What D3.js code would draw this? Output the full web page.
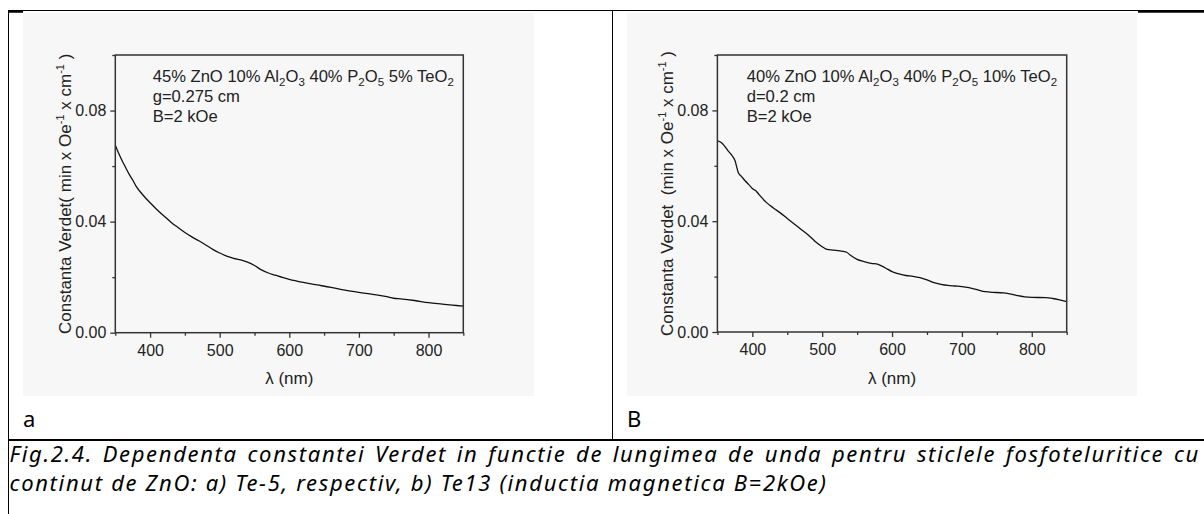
<!DOCTYPE html>
<html>
<head>
<meta charset="utf-8">
<script src="https://cdn.jsdelivr.net/npm/d3@7"></script>
<style>
  body { margin: 0; background: #fff; }
  svg { display: block; }
  .tick text { font-family: "Liberation Sans", Arial, sans-serif; font-size: 16px; fill: #222; }
  .tick line { stroke: #333; stroke-width: 1.3; }
</style>
</head>
<body>
<svg id="chart" width="1204" height="514"></svg>
<script>
// ---- data ----
const wavelengthA = [350,355,360,365,370,375,380,390,400,410,420,430,440,450,460,470,480,490,500,510,520,530,540,550,560,570,580,590,600,620,640,660,680,700,720,740,750,760,780,800,820,840,850];
const verdetA     = [0.0675,0.0645,0.0618,0.0594,0.0570,0.0550,0.0527,0.0495,0.0468,0.0443,0.0420,0.0398,0.0379,0.0361,0.0345,0.0331,0.0316,0.0300,0.0287,0.0276,0.0268,0.0262,0.0254,0.0242,0.0226,0.0215,0.0207,0.0199,0.0192,0.0181,0.0172,0.0163,0.0153,0.0145,0.0138,0.0130,0.0124,0.0122,0.0116,0.0108,0.0103,0.0098,0.0096];

const wavelengthB = [350,355,360,365,370,375,380,385,390,395,400,405,410,420,430,440,450,460,470,480,490,500,505,510,520,530,535,540,550,560,570,580,590,600,610,620,630,640,650,660,670,680,690,700,710,720,730,740,760,770,780,790,800,820,830,840,850];
const verdetB     = [0.0690,0.0685,0.0672,0.0655,0.0640,0.0620,0.0575,0.0560,0.0545,0.0532,0.0518,0.0510,0.0495,0.0468,0.0448,0.0430,0.0410,0.0390,0.0370,0.0350,0.0327,0.0308,0.0300,0.0297,0.0295,0.0291,0.0288,0.0278,0.0262,0.0254,0.0248,0.0244,0.0232,0.0218,0.0210,0.0204,0.0201,0.0196,0.0188,0.0178,0.0172,0.0168,0.0166,0.0164,0.0160,0.0154,0.0147,0.0144,0.0141,0.0137,0.0131,0.0127,0.0125,0.0124,0.0121,0.0116,0.0110];

const xDomain = [350, 850];
const yDomain = [0, 0.1];
const xMajorTicks = [400, 500, 600, 700, 800];
const xMinorTicks = [350, 450, 550, 650, 750, 850];
const yMajorTicks = [0, 0.04, 0.08];
const yMinorTicks = [0.02, 0.06, 0.1];

// annotation lines: [text, isSubscript] pairs
const notesA = [
  [["45% ZnO 10% Al",0],["2",1],["O",0],["3",1],[" 40% P",0],["2",1],["O",0],["5",1],[" 5% TeO",0],["2",1]],
  [["g=0.275 cm",0]],
  [["B=2 kOe",0]]
];
const notesB = [
  [["40% ZnO 10% Al",0],["2",1],["O",0],["3",1],[" 40% P",0],["2",1],["O",0],["5",1],[" 10% TeO",0],["2",1]],
  [["d=0.2 cm",0]],
  [["B=2 kOe",0]]
];
// y label pieces: [text, isSuperscript]
const yLabelA = [["Constanta Verdet( min x Oe",0],["-1",1],[" x cm",0],["-1",1],[" )",0]];
const yLabelB = [["Constanta Verdet  (min x Oe",0],["-1",1],[" x cm",0],["-1",1],[" )",0]];
const xLabel = "λ (nm)";

const cellLabels = ["a", "B"];
const captionLine1 = "Fig.2.4. Dependenta constantei Verdet in functie de lungimea de unda pentru sticlele fosfoteluritice cu";
const captionLine2 = "continut de ZnO: a) Te-5, respectiv, b) Te13 (inductia magnetica B=2kOe)";

// ---- drawing ----
const svg = d3.select("#chart");
const ARIAL = '"Liberation Sans", Arial, sans-serif';
const CAPFONT = '"Noto Sans", "Open Sans", sans-serif';

svg.append("rect").attr("width", 1204).attr("height", 514).attr("fill", "#fff");

function drawPanel(p){
  const g = svg.append("g");
  g.append("rect")
    .attr("x", p.bg[0]).attr("y", p.bg[1]).attr("width", p.bg[2]).attr("height", p.bg[3])
    .attr("fill", "#f7f7f7");

  const x = d3.scaleLinear().domain(xDomain).range([p.left, p.right]);
  const y = d3.scaleLinear().domain(yDomain).range([p.bottom, p.top]);

  // minor ticks
  g.append("g").attr("transform", `translate(0,${p.bottom})`)
    .call(d3.axisBottom(x).tickValues(xMinorTicks).tickSize(3).tickFormat(""))
    .call(s => s.select(".domain").remove());
  g.append("g").attr("transform", `translate(${p.left},0)`)
    .call(d3.axisLeft(y).tickValues(yMinorTicks).tickSize(3).tickFormat(""))
    .call(s => s.select(".domain").remove());

  // major ticks
  g.append("g").attr("transform", `translate(0,${p.bottom})`)
    .call(d3.axisBottom(x).tickValues(xMajorTicks).tickSize(5).tickPadding(7).tickFormat(d3.format("d")))
    .call(s => s.select(".domain").remove());
  g.append("g").attr("transform", `translate(${p.left},0)`)
    .call(d3.axisLeft(y).tickValues(yMajorTicks).tickSize(5).tickPadding(4).tickFormat(d3.format(".2f")))
    .call(s => s.select(".domain").remove());

  // curve
  const line = d3.line().x((d,i) => x(p.xs[i])).y(d => y(d)).curve(d3.curveMonotoneX);
  g.append("path").datum(p.ys)
    .attr("fill", "none").attr("stroke", "#111").attr("stroke-width", 1.3)
    .attr("d", line);

  // frame
  g.append("rect")
    .attr("x", p.left).attr("y", p.top)
    .attr("width", p.right - p.left).attr("height", p.bottom - p.top)
    .attr("fill", "none").attr("stroke", "#333").attr("stroke-width", 1.5);

  // annotation
  p.notes.forEach((ln, i) => {
    const t = g.append("text")
      .attr("x", p.noteX).attr("y", 82 + i * 20)
      .attr("font-family", ARIAL).attr("font-size", 16.6).attr("fill", "#222")
      .style("white-space", "pre");
    let shifted = false;
    ln.forEach(([s, sub]) => {
      const ts = t.append("tspan").text(s);
      if (sub && !shifted) { ts.attr("dy", 4).attr("font-size", 11.5); shifted = true; }
      else if (sub) { ts.attr("font-size", 11.5); }
      else if (shifted) { ts.attr("dy", -4); shifted = false; }
    });
  });

  // axis titles
  g.append("text")
    .attr("x", (p.left + p.right) / 2).attr("y", 384)
    .attr("text-anchor", "middle")
    .attr("font-family", ARIAL).attr("font-size", 17).attr("fill", "#222")
    .text(xLabel);

  const yl = g.append("text")
    .attr("transform", `translate(${p.ylabX},${(p.top + p.bottom) / 2}) rotate(-90)`)
    .attr("text-anchor", "middle")
    .attr("font-family", ARIAL).attr("font-size", 17).attr("fill", "#222")
    .style("white-space", "pre");
  let up = false;
  p.ylabel.forEach(([s, sup]) => {
    const ts = yl.append("tspan").text(s);
    if (sup) { ts.attr("dy", -7).attr("font-size", 11); up = true; }
    else if (up) { ts.attr("dy", 7); up = false; }
  });
}

drawPanel({
  bg: [23, 13, 511, 383], left: 115.3, right: 463.3, top: 55, bottom: 332.7,
  xs: wavelengthA, ys: verdetA, notes: notesA, noteX: 152.7, ylabel: yLabelA, ylabX: 71
});
drawPanel({
  bg: [627, 13, 510, 383], left: 717.4, right: 1066.7, top: 55, bottom: 332,
  xs: wavelengthB, ys: verdetB, notes: notesB, noteX: 746.7, ylabel: yLabelB, ylabX: 673
});

// ---- table borders ----
const border = svg.append("g").attr("stroke", "#000").attr("fill", "none");
border.append("line").attr("x1", 8).attr("x2", 1204).attr("y1", 10.5).attr("y2", 10.5).attr("stroke-width", 1);
border.append("line").attr("x1", 8).attr("x2", 23).attr("y1", 11.5).attr("y2", 11.5).attr("stroke-width", 2.5);
border.append("line").attr("x1", 1138).attr("x2", 1204).attr("y1", 11.5).attr("y2", 11.5).attr("stroke-width", 2.5);
border.append("line").attr("x1", 8.5).attr("x2", 8.5).attr("y1", 10).attr("y2", 514).attr("stroke-width", 1);
border.append("line").attr("x1", 612.5).attr("x2", 612.5).attr("y1", 10).attr("y2", 440).attr("stroke-width", 1);
border.append("line").attr("x1", 8).attr("x2", 1204).attr("y1", 440).attr("y2", 440).attr("stroke-width", 2);

// ---- caption: line 2 natural (stretched a little), line 1 justified ----
const capLeft = 9.5, capRight = 1200, capSize = 22;
function capText(s, yy){
  return svg.append("text").attr("y", yy)
    .attr("font-family", CAPFONT).attr("font-style", "italic")
    .attr("font-size", capSize).attr("fill", "#000")
    .style("white-space", "pre").text(s);
}
const l2 = capText(captionLine2, 491).attr("x", capLeft);
const ls = Math.max(0, (818 - l2.node().getComputedTextLength()) / captionLine2.length);
l2.attr("letter-spacing", ls);

const words = captionLine1.split(" ");
const nodes = words.map(w => capText(w, 462).attr("letter-spacing", ls));
const widths = nodes.map(n => n.node().getComputedTextLength());
const gap = (capRight - capLeft - d3.sum(widths)) / (words.length - 1);
let cx = capLeft;
nodes.forEach((n, i) => { n.attr("x", cx); cx += widths[i] + gap; });

// ---- cell labels ----
[[23, cellLabels[0]], [627, cellLabels[1]]].forEach(([lx, s]) => {
  svg.append("text").attr("x", lx).attr("y", 427)
    .attr("font-family", CAPFONT).attr("font-size", 22).attr("fill", "#000")
    .text(s);
});
</script>
</body>
</html>
